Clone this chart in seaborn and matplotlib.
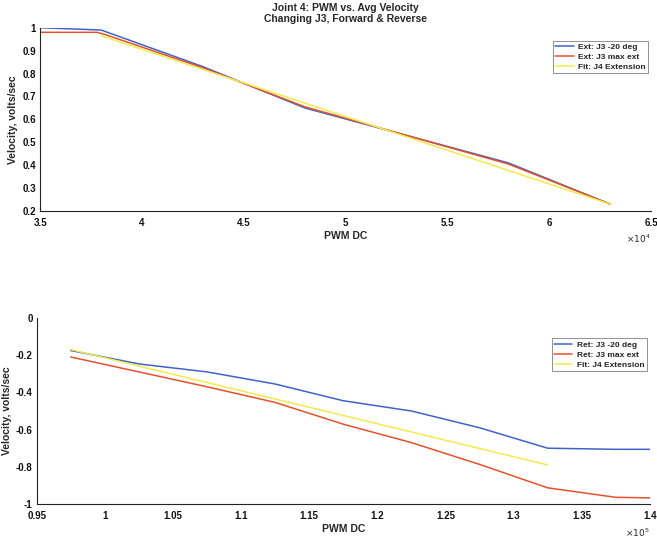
import matplotlib
matplotlib.use("Agg")
import matplotlib.pyplot as plt
import seaborn as sns
import pandas as pd
from matplotlib.ticker import FuncFormatter, MultipleLocator

# ---- data ----
ext_x_blue = [35000, 38000, 43000, 48000, 53000, 58000, 63000]
ext_y_blue = [1.00, 0.99, 0.83, 0.65, 0.53, 0.41, 0.23]
ext_x_red = [35000, 37800, 38200, 43000, 48000, 53000, 58000, 63000]
ext_y_red = [0.98, 0.98, 0.97, 0.825, 0.655, 0.53, 0.405, 0.23]
ext_x_fit = [38000, 63000]
ext_y_fit = [0.965, 0.23]

ret_x = [97500, 102500, 107500, 112500, 117500, 122500, 127500, 132500, 137500, 140000]
ret_y_blue = [-0.175, -0.247, -0.29, -0.355, -0.445, -0.50, -0.59, -0.70, -0.706, -0.706]
ret_y_red = [-0.21, -0.29, -0.37, -0.454, -0.571, -0.67, -0.787, -0.913, -0.964, -0.967]
ret_x_fit = [97500, 132500]
ret_y_fit = [-0.17, -0.79]

title = "Joint 4: PWM vs. Avg Velocity\nChanging J3, Forward & Reverse"
ext_labels = ["Ext: J3 -20 deg", "Ext: J3 max ext", "Fit: J4 Extension"]
ret_labels = ["Ret: J3 -20 deg", "Ret: J3 max ext", "Fit: J4 Extension"]

BLUE = "#3f63c9"
RED = "#e2532d"
YELLOW = "#f4ea4e"

sns.set_style("white")
plt.rcParams['font.family'] = ['Liberation Sans', 'DejaVu Sans']
plt.rcParams['xtick.direction'] = 'in'
plt.rcParams['ytick.direction'] = 'in'

fig = plt.figure(figsize=(6.57, 5.44), dpi=100)
ax1 = fig.add_axes([0.061, 0.612, 0.930, 0.337])
ax2 = fig.add_axes([0.056, 0.0735, 0.933, 0.342])

def fmt(scale):
    def f(v, p):
        r = round(v / scale, 6)
        if r == 0:
            r = 0.0
        return f"{r:g}"
    return FuncFormatter(f)

def draw(ax, series, labels):
    for (x, y, c), lab in zip(series, labels):
        df = pd.DataFrame({"x": x, "y": y})
        sns.lineplot(data=df, x="x", y="y", ax=ax, color=c, linewidth=1.1,
                     label=lab, sort=False)

draw(ax1, [(ext_x_blue, ext_y_blue, BLUE), (ext_x_red, ext_y_red, RED),
           (ext_x_fit, ext_y_fit, YELLOW)], ext_labels)
draw(ax2, [(ret_x, ret_y_blue, BLUE), (ret_x, ret_y_red, RED),
           (ret_x_fit, ret_y_fit, YELLOW)], ret_labels)

ax1.set_xlim(35000, 65000)
ax1.set_ylim(0.2, 1.0)
ax1.xaxis.set_major_locator(MultipleLocator(5000))
ax1.yaxis.set_major_locator(MultipleLocator(0.1))
ax1.xaxis.set_major_formatter(fmt(1e4))
ax1.yaxis.set_major_formatter(fmt(1))

ax2.set_xlim(95000, 140000)
ax2.set_ylim(-1.0, 0.0)
ax2.xaxis.set_major_locator(MultipleLocator(5000))
ax2.yaxis.set_major_locator(MultipleLocator(0.2))
ax2.xaxis.set_major_formatter(fmt(1e5))
ax2.yaxis.set_major_formatter(fmt(1))

for ax, mult, ly in ((ax1, "4", 0.93), (ax2, "5", 0.89)):
    sns.despine(ax=ax)
    for s in ("left", "bottom"):
        ax.spines[s].set_color("#222222")
        ax.spines[s].set_linewidth(0.8)
    ax.tick_params(axis="both", labelsize=7, length=3, width=0.7,
                   colors="#111111")
    ax.tick_params(axis="x", pad=5)
    ax.tick_params(axis="y", pad=3)
    for lab in ax.get_xticklabels() + ax.get_yticklabels():
        lab.set_fontweight("bold")
    ax.set_xlabel("PWM DC", fontsize=7.5, fontweight="bold", labelpad=2)
    ax.set_ylabel("Velocity, volts/sec", fontsize=7.5, fontweight="bold", labelpad=3)
    ax.text(1.0, -0.12, r"$\times10^{" + mult + "}$", transform=ax.transAxes,
            fontsize=6.5, ha="right", va="top")
    leg = ax.legend(loc="upper right", bbox_to_anchor=(0.995, ly), fontsize=6,
                    frameon=True, fancybox=False, borderpad=0.3, labelspacing=0.25,
                    handlelength=2.2, handletextpad=0.5, borderaxespad=0.0)
    leg.get_frame().set_edgecolor("#777777")
    leg.get_frame().set_linewidth(0.7)
    for t in leg.get_texts():
        t.set_fontweight("bold")

ax1.set_title(title, fontsize=7.5, fontweight="bold", pad=4)

fig.savefig("out.png", dpi=100)
